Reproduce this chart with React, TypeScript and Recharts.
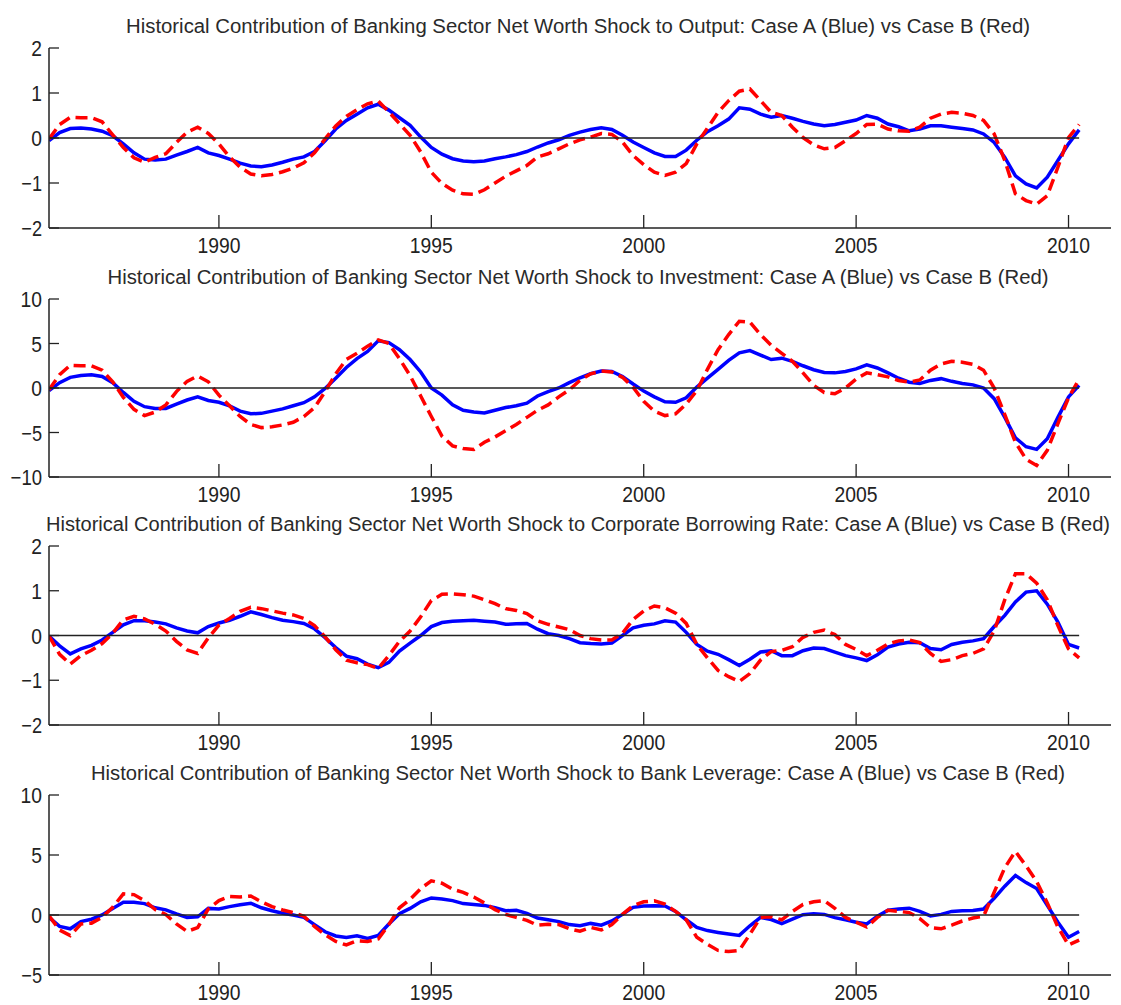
import React from "react";
import { LineChart, Line, XAxis, YAxis } from "recharts";

// Quarterly sample dates, 1986Q1 .. 2010Q2
const quarters: number[] = Array.from({ length: 98 }, (_, i) => 1986 + i / 4);

const yearTicks = [1990, 1995, 2000, 2005, 2010];

// Output
const outputA = [
  -0.06, 0.12, 0.21, 0.22, 0.2, 0.15, 0.05, -0.13, -0.33, -0.47,
  -0.49, -0.47, -0.38, -0.3, -0.21, -0.33, -0.39, -0.47, -0.56, -0.62,
  -0.64, -0.6, -0.54, -0.47, -0.42, -0.3, -0.06, 0.2, 0.39, 0.53,
  0.67, 0.75, 0.62, 0.45, 0.28, 0.02, -0.21, -0.36, -0.46, -0.51,
  -0.53, -0.51, -0.46, -0.42, -0.37, -0.3, -0.2, -0.11, -0.04, 0.06,
  0.13, 0.19, 0.23, 0.19, 0.06, -0.09, -0.21, -0.33, -0.41, -0.41,
  -0.27, -0.05, 0.14, 0.27, 0.42, 0.67, 0.64, 0.53, 0.46, 0.5,
  0.44, 0.37, 0.31, 0.27, 0.3, 0.35, 0.4, 0.5, 0.44, 0.31,
  0.25, 0.16, 0.2, 0.27, 0.27, 0.24, 0.21, 0.18, 0.09, -0.1,
  -0.43, -0.84, -1.02, -1.11, -0.87, -0.5, -0.13, 0.18,
];
const outputB = [
  -0.02, 0.3, 0.46, 0.45, 0.45, 0.36, 0.07, -0.21, -0.44, -0.54,
  -0.43, -0.35, -0.1, 0.13, 0.24, 0.1, -0.13, -0.42, -0.65, -0.8,
  -0.84, -0.81, -0.75, -0.67, -0.55, -0.33, -0.02, 0.27, 0.48, 0.63,
  0.76, 0.82, 0.58, 0.32, 0.06, -0.31, -0.76, -1.01, -1.16, -1.24,
  -1.25, -1.15, -1.0, -0.85, -0.73, -0.61, -0.42, -0.35, -0.24, -0.13,
  -0.04, 0.02, 0.1, 0.08, -0.09, -0.39, -0.59, -0.76, -0.83, -0.76,
  -0.57, -0.13, 0.22, 0.57, 0.83, 1.04, 1.09, 0.83, 0.57, 0.5,
  0.24, 0.01, -0.15, -0.24, -0.21, -0.06, 0.1, 0.3, 0.31, 0.2,
  0.16, 0.15, 0.24, 0.44, 0.53, 0.57, 0.55, 0.5, 0.39, 0.09,
  -0.5, -1.24, -1.39, -1.47, -1.28, -0.65, 0.01, 0.3,
];

// Investment
const investA = [
  -0.3, 0.6, 1.2, 1.4, 1.5, 1.3, 0.6, -0.5, -1.5, -2.1,
  -2.3, -2.3, -1.8, -1.35, -1.0, -1.4, -1.6, -2.0, -2.6, -2.9,
  -2.85, -2.6, -2.35, -2.0, -1.65, -1.0, -0.05, 1.1, 2.3, 3.3,
  4.1, 5.3, 5.1, 4.3, 3.2, 1.8, 0.0, -0.8, -1.9, -2.5,
  -2.7, -2.8, -2.5, -2.2, -2.0, -1.7, -0.9, -0.4, 0.0, 0.6,
  1.15, 1.6, 1.9, 1.85, 1.3, 0.45, -0.35, -1.0, -1.55, -1.6,
  -1.1, 0.1, 1.1, 2.1, 3.1, 3.95, 4.2, 3.7, 3.2, 3.35,
  3.0, 2.5, 2.05, 1.75, 1.7, 1.85, 2.15, 2.6, 2.25, 1.7,
  1.1, 0.65, 0.5, 0.85, 1.05, 0.75, 0.5, 0.35, 0.0, -1.2,
  -3.3, -5.6, -6.6, -6.9, -5.7, -3.3, -1.0, 0.3,
];
const investB = [
  -0.2, 1.5, 2.55, 2.5, 2.5, 2.0, 0.7, -1.05, -2.4, -3.1,
  -2.7, -1.9, -0.4, 0.75, 1.35, 0.7, -0.8, -2.0, -3.2, -4.1,
  -4.45, -4.35, -4.15, -3.85, -3.2, -2.2, -0.4, 1.6, 3.2, 3.9,
  4.7, 5.4, 5.0, 3.3, 1.4, -0.9, -3.2, -5.4, -6.5, -6.8,
  -6.9, -6.1, -5.5, -4.8, -4.1, -3.3, -2.5, -1.9, -1.0, -0.2,
  0.85, 1.6, 1.9, 1.8, 1.2, 0.1, -1.5, -2.6, -3.1, -2.9,
  -1.8, -0.3, 2.1, 4.3, 6.0, 7.5, 7.4, 6.0, 4.8, 3.9,
  3.0, 1.7, 0.3, -0.5, -0.65, 0.0, 1.0, 1.7, 1.5, 1.25,
  0.85, 0.65, 0.9, 2.0, 2.7, 3.0, 2.9, 2.65, 2.0, 0.0,
  -3.0, -6.1, -8.0, -8.7, -7.0, -4.0, -1.1, 1.0,
];

// Corporate borrowing rate
const rateA = [
  -0.01, -0.23, -0.41, -0.3, -0.22, -0.1, 0.07, 0.24, 0.33, 0.33,
  0.3, 0.26, 0.17, 0.1, 0.06, 0.2, 0.28, 0.34, 0.43, 0.53,
  0.47, 0.4, 0.34, 0.31, 0.27, 0.15, -0.05, -0.27, -0.46, -0.52,
  -0.64, -0.72, -0.6, -0.35, -0.17, 0.0, 0.2, 0.29, 0.32, 0.33,
  0.34, 0.32, 0.3, 0.25, 0.26, 0.27, 0.14, 0.04, 0.0, -0.07,
  -0.16, -0.18, -0.19, -0.17, 0.0, 0.17, 0.23, 0.26, 0.33, 0.3,
  0.07, -0.2, -0.35, -0.42, -0.54, -0.67, -0.53, -0.37, -0.34, -0.45,
  -0.45, -0.34, -0.28, -0.29, -0.37, -0.45, -0.5, -0.56, -0.43, -0.26,
  -0.19, -0.15, -0.16, -0.29, -0.32, -0.2, -0.15, -0.12, -0.07, 0.2,
  0.45, 0.75, 0.97, 1.0, 0.7, 0.3, -0.2, -0.28,
];
const rateB = [
  -0.01, -0.42, -0.64, -0.45, -0.33, -0.18, 0.05, 0.35, 0.43, 0.37,
  0.25, 0.1, -0.13, -0.32, -0.4, -0.05, 0.23, 0.38, 0.54, 0.63,
  0.6, 0.55, 0.5, 0.46, 0.38, 0.22, -0.03, -0.32, -0.55, -0.61,
  -0.65, -0.74, -0.45, -0.13, 0.1, 0.42, 0.78, 0.92, 0.93, 0.91,
  0.88, 0.8, 0.71, 0.6, 0.56, 0.49, 0.33, 0.25, 0.19, 0.13,
  0.0, -0.07, -0.1, -0.1, 0.05, 0.36, 0.55, 0.66, 0.62, 0.5,
  0.27, -0.2, -0.5, -0.78, -0.92, -1.03, -0.85, -0.55, -0.36, -0.33,
  -0.25, -0.04, 0.07, 0.12, 0.02, -0.2, -0.31, -0.45, -0.33, -0.19,
  -0.12, -0.1, -0.16, -0.4, -0.58, -0.54, -0.45, -0.4, -0.3, 0.1,
  0.8, 1.38, 1.38, 1.17, 0.8, 0.22, -0.3, -0.5,
];

// Bank leverage
const leverageA = [
  -0.2, -0.95, -1.15, -0.55, -0.35, 0.0, 0.55, 1.06, 1.06, 0.95,
  0.6, 0.43, 0.1, -0.2, -0.15, 0.55, 0.5, 0.7, 0.85, 0.98,
  0.6, 0.35, 0.15, 0.0, -0.2, -0.8, -1.4, -1.75, -1.87, -1.73,
  -1.95, -1.7, -0.75, 0.1, 0.55, 1.1, 1.42, 1.34, 1.2, 0.95,
  0.88, 0.8, 0.6, 0.35, 0.4, 0.14, -0.25, -0.4, -0.55, -0.8,
  -0.89, -0.7, -0.85, -0.5, 0.05, 0.64, 0.75, 0.78, 0.75, 0.3,
  -0.4, -1.03, -1.3, -1.45, -1.58, -1.7, -0.9, -0.2, -0.38, -0.72,
  -0.35, 0.03, 0.1, 0.05, -0.22, -0.4, -0.6, -0.75, -0.1, 0.4,
  0.5, 0.57, 0.3, -0.08, 0.05, 0.3, 0.36, 0.38, 0.5, 1.4,
  2.4, 3.3, 2.7, 2.2, 0.8, -0.6, -1.85, -1.38,
];
const leverageB = [
  -0.06, -1.25, -1.72, -0.75, -0.68, -0.2, 0.65, 1.76, 1.7, 1.2,
  0.45, 0.05, -0.75, -1.37, -1.05, 0.5, 1.2, 1.55, 1.5, 1.58,
  1.1, 0.7, 0.42, 0.2, -0.1, -0.95, -1.65, -2.2, -2.5, -2.15,
  -2.2, -2.0, -0.8, 0.6, 1.3, 2.2, 2.85, 2.65, 2.15, 1.89,
  1.5, 1.0, 0.45, 0.05, -0.2, -0.45, -0.85, -0.78, -0.8, -1.15,
  -1.35, -1.03, -1.25, -0.8, 0.05, 0.78, 1.1, 1.18, 0.9, 0.3,
  -0.4, -1.86, -2.45, -2.95, -3.05, -2.95, -1.6, -0.2, -0.15, -0.4,
  0.3, 0.88, 1.1, 1.2, 0.55, -0.2, -0.6, -1.0, -0.2, 0.4,
  0.3, 0.2, -0.3, -1.05, -1.15, -0.85, -0.5, -0.25, -0.1, 1.9,
  3.95, 5.3, 4.1, 2.8, 1.0, -1.0, -2.5, -2.1,
];

const rows = quarters.map((t, i) => ({
  t,
  outputA: outputA[i],
  outputB: outputB[i],
  investA: investA[i],
  investB: investB[i],
  rateA: rateA[i],
  rateB: rateB[i],
  leverageA: leverageA[i],
  leverageB: leverageB[i],
  zero: 0,
}));

const FONT = "'Liberation Sans', Arial, sans-serif";
const INK = "#222";
const TITLE_INK = "#2a2a2a";
const TITLE_X = 578;

const panels = [
  {
    title: "Historical Contribution of Banking Sector Net Worth Shock to Output: Case A (Blue) vs Case B (Red)",
    a: "outputA", b: "outputB", domain: [-2, 2], ticks: [-2, -1, 0, 1, 2],
    top: 47.5, bottom: 227.5, titleY: 33, titleW: 904,
  },
  {
    title: "Historical Contribution of Banking Sector Net Worth Shock to Investment: Case A (Blue) vs Case B (Red)",
    a: "investA", b: "investB", domain: [-10, 10], ticks: [-10, -5, 0, 5, 10],
    top: 298.5, bottom: 476.5, titleY: 284, titleW: 941,
  },
  {
    title: "Historical Contribution of Banking Sector Net Worth Shock to Corporate Borrowing Rate: Case A (Blue) vs Case B (Red)",
    a: "rateA", b: "rateB", domain: [-2, 2], ticks: [-2, -1, 0, 1, 2],
    top: 545.5, bottom: 724.5, titleY: 531, titleW: 1064,
  },
  {
    title: "Historical Contribution of Banking Sector Net Worth Shock to Bank Leverage: Case A (Blue) vs Case B (Red)",
    a: "leverageA", b: "leverageB", domain: [-5, 10], ticks: [-5, 0, 5, 10],
    top: 794.5, bottom: 974.5, titleY: 780, titleW: 974,
  },
];

function XTick(props: any) {
  const { x, y, payload } = props;
  return (
    <g>
      <line x1={x} x2={x} y1={y} y2={y - 13} stroke={INK} strokeWidth={1.3} />
      <text
        x={x}
        y={y + 25}
        textAnchor="middle"
        fontFamily={FONT}
        fontSize={22}
        fill={INK}
        textLength={43}
        lengthAdjust="spacingAndGlyphs"
      >
        {payload.value}
      </text>
    </g>
  );
}

function YTick(props: any) {
  const { x, y, payload } = props;
  const v: number = payload.value;
  const label = v < 0 ? "\u2212" + Math.abs(v) : String(v);
  const w = String(Math.abs(v)).length * 10.7 + (v < 0 ? 10 : 0);
  return (
    <g>
      <line x1={x} x2={x + 10} y1={y} y2={y} stroke={INK} strokeWidth={1.3} />
      <text
        x={x - 7}
        y={y + 8}
        textAnchor="end"
        fontFamily={FONT}
        fontSize={22}
        fill={INK}
        textLength={w}
        lengthAdjust="spacingAndGlyphs"
      >
        {label}
      </text>
    </g>
  );
}

const PAD_TOP = 20;
const AXIS_H = 36;

export default function App() {
  return (
    <div style={{ position: "absolute", left: 0, top: 0, width: 1121, height: 1005, background: "#fff" }}>
      {panels.map((p) => {
        const h = p.bottom - p.top + PAD_TOP + AXIS_H;
        return (
          <div key={p.a} style={{ position: "absolute", left: 0, top: p.top - PAD_TOP, width: 1121, height: h }}>
            <LineChart
              width={1121}
              height={h}
              data={rows}
              margin={{ top: PAD_TOP, right: 10, bottom: 0, left: 0 }}
            >
              <XAxis
                dataKey="t"
                type="number"
                domain={[1986, 2011]}
                ticks={yearTicks}
                interval={0}
                height={AXIS_H}
                tickSize={0}
                tickMargin={0}
                tickLine={false}
                tick={<XTick />}
                axisLine={{ stroke: INK, strokeWidth: 1.5 }}
                allowDataOverflow
              />
              <YAxis
                type="number"
                domain={p.domain}
                ticks={p.ticks}
                interval={0}
                width={49}
                tickSize={0}
                tickMargin={0}
                tickLine={false}
                tick={<YTick />}
                axisLine={{ stroke: INK, strokeWidth: 1.5 }}
                allowDataOverflow
              />
              <Line
                dataKey={p.a}
                type="linear"
                stroke="#0000ff"
                strokeWidth={3.5}
                dot={false}
                isAnimationActive={false}
              />
              <Line
                dataKey={p.b}
                type="linear"
                stroke="#ff0000"
                strokeWidth={3.5}
                strokeDasharray="12 6"
                dot={false}
                isAnimationActive={false}
              />
              <Line
                dataKey="zero"
                type="linear"
                stroke={INK}
                strokeWidth={1.3}
                dot={false}
                isAnimationActive={false}
              />
            </LineChart>
          </div>
        );
      })}
      <svg
        width={1121}
        height={1005}
        style={{ position: "absolute", left: 0, top: 0, pointerEvents: "none" }}
      >
        {panels.map((p) => (
          <text
            key={p.a}
            x={TITLE_X}
            y={p.titleY}
            textAnchor="middle"
            fontFamily={FONT}
            fontSize={20}
            fill={TITLE_INK}
            textLength={p.titleW}
            lengthAdjust="spacingAndGlyphs"
          >
            {p.title}
          </text>
        ))}
      </svg>
    </div>
  );
}
